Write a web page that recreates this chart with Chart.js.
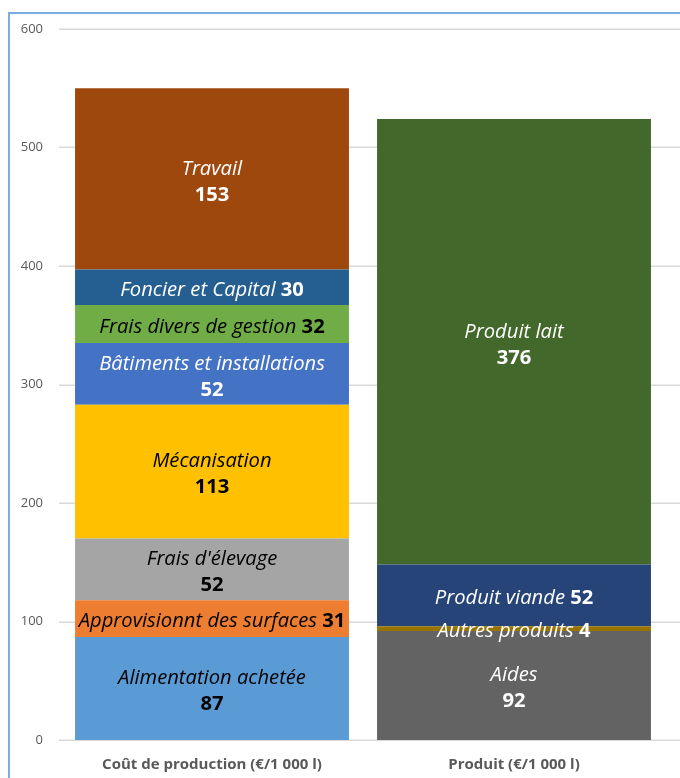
<!DOCTYPE html>
<html>
<head>
<meta charset="utf-8">
<script src="https://cdn.jsdelivr.net/npm/chart.js@4"></script>
<style>
  html, body { margin: 0; padding: 0; background: #fff; overflow: hidden; }
  #wrap { position: relative; width: 680px; height: 778px; }
  #frame { position: absolute; left: 8px; top: 12px; width: 700px; height: 800px;
           border-top: 2px solid #7aaee0; border-left: 2px solid #7aaee0; }
  #wrap canvas { position: absolute; left: 0; top: 0; }
</style>
</head>
<body>
<div id="wrap">
  <div id="frame"></div>
  <canvas id="chart" width="680" height="778"></canvas>
</div>
<script>
// catégories de l'axe X
const categories = ['Coût de production (€/1 000 l)', 'Produit (€/1 000 l)'];

// coût de production, de bas en haut
const costLabels = ['Alimentation achetée', 'Approvisionnt des surfaces', "Frais d'élevage", 'Mécanisation',
  'Bâtiments et installations', 'Frais divers de gestion', 'Foncier et Capital', 'Travail'];
const costValues = [87, 31, 52, 113, 52, 32, 30, 153];
const costColors = ['#5B9BD5', '#ED7D31', '#A5A5A5', '#FFC000', '#4472C4', '#70AD47', '#255E91', '#9E480E'];
const costText = ['#000', '#000', '#000', '#000', '#fff', '#000', '#fff', '#fff'];

// produit, de bas en haut
const productLabels = ['Aides', 'Autres produits', 'Produit viande', 'Produit lait'];
const productValues = [92, 4, 52, 376];
const productColors = ['#636363', '#997300', '#264478', '#43682B'];
const productText = ['#fff', '#fff', '#fff', '#fff'];

// étiquettes sur une seule ligne
const inlineLabels = ['Approvisionnt des surfaces', 'Frais divers de gestion', 'Foncier et Capital',
  'Autres produits', 'Produit viande'];

const yTicks = [0, 100, 200, 300, 400, 500, 600];

const datasets = [];
costLabels.forEach((lab, i) => {
  datasets.push({ label: lab, data: [costValues[i], null], backgroundColor: costColors[i], textColor: costText[i] });
});
productLabels.forEach((lab, i) => {
  datasets.push({ label: lab, data: [null, productValues[i]], backgroundColor: productColors[i], textColor: productText[i] });
});

const FONT = '"Open Sans", sans-serif';

// grille horizontale jusqu'au bord droit
const gridPlugin = {
  id: 'grid',
  beforeDatasetsDraw(chart) {
    const ctx = chart.ctx;
    const y = chart.scales.y;
    ctx.save();
    ctx.strokeStyle = '#d9d9d9';
    ctx.lineWidth = 1.5;
    yTicks.forEach((t) => {
      const py = Math.round(y.getPixelForValue(t)) + 0.25;
      ctx.beginPath();
      ctx.moveTo(chart.chartArea.left - 2, py);
      ctx.lineTo(chart.width, py);
      ctx.stroke();
    });
    ctx.restore();
  },
};

// étiquettes dans les segments
const labelPlugin = {
  id: 'segLabels',
  afterDatasetsDraw(chart) {
    const ctx = chart.ctx;
    ctx.save();
    ctx.textBaseline = 'middle';
    chart.data.datasets.forEach((ds, i) => {
      const meta = chart.getDatasetMeta(i);
      meta.data.forEach((el, j) => {
        const v = ds.data[j];
        if (v == null) return;
        const cx = el.x;
        const cy = (el.y + el.base) / 2;
        const italic = 'italic 20.2px ' + FONT;
        const bold = 'bold 20.2px ' + FONT;
        ctx.fillStyle = ds.textColor;
        if (inlineLabels.includes(ds.label)) {
          ctx.font = italic;
          const w1 = ctx.measureText(ds.label + ' ').width;
          ctx.font = bold;
          const w2 = ctx.measureText(String(v)).width;
          const x0 = cx - (w1 + w2) / 2;
          ctx.textAlign = 'left';
          ctx.font = italic;
          ctx.fillText(ds.label + ' ', x0, cy + 3);
          ctx.font = bold;
          ctx.fillText(String(v), x0 + w1, cy + 3);
        } else {
          ctx.textAlign = 'center';
          ctx.font = italic;
          ctx.fillText(ds.label, cx, cy - 10);
          ctx.font = bold;
          ctx.fillText(String(v), cx, cy + 16);
        }
      });
    });
    ctx.restore();
  },
};

new Chart(document.getElementById('chart'), {
  type: 'bar',
  data: { labels: categories, datasets: datasets },
  options: {
    responsive: false,
    animation: false,
    layout: { padding: { top: 29, right: 15, left: 0, bottom: 0 } },
    plugins: {
      legend: { display: false },
      tooltip: { enabled: false },
    },
    datasets: {
      bar: { categoryPercentage: 1, barPercentage: 0.907, borderWidth: 0 },
    },
    scales: {
      x: {
        stacked: true,
        grid: { display: false, drawTicks: false },
        border: { display: false },
        afterFit: (s) => { s.height = 38; },
        ticks: {
          padding: 16,
          color: '#595959',
          font: { family: FONT, size: 15, weight: 'bold' },
        },
      },
      y: {
        stacked: true,
        min: 0,
        max: 600,
        grid: { display: false, drawTicks: false },
        border: { display: false },
        afterFit: (s) => { s.width = 61; },
        afterBuildTicks: (s) => { s.ticks = yTicks.map((v) => ({ value: v })); },
        ticks: {
          padding: 18,
          color: '#595959',
          font: { family: FONT, size: 13 },
        },
      },
    },
  },
  plugins: [gridPlugin, labelPlugin],
});
</script>
</body>
</html>
